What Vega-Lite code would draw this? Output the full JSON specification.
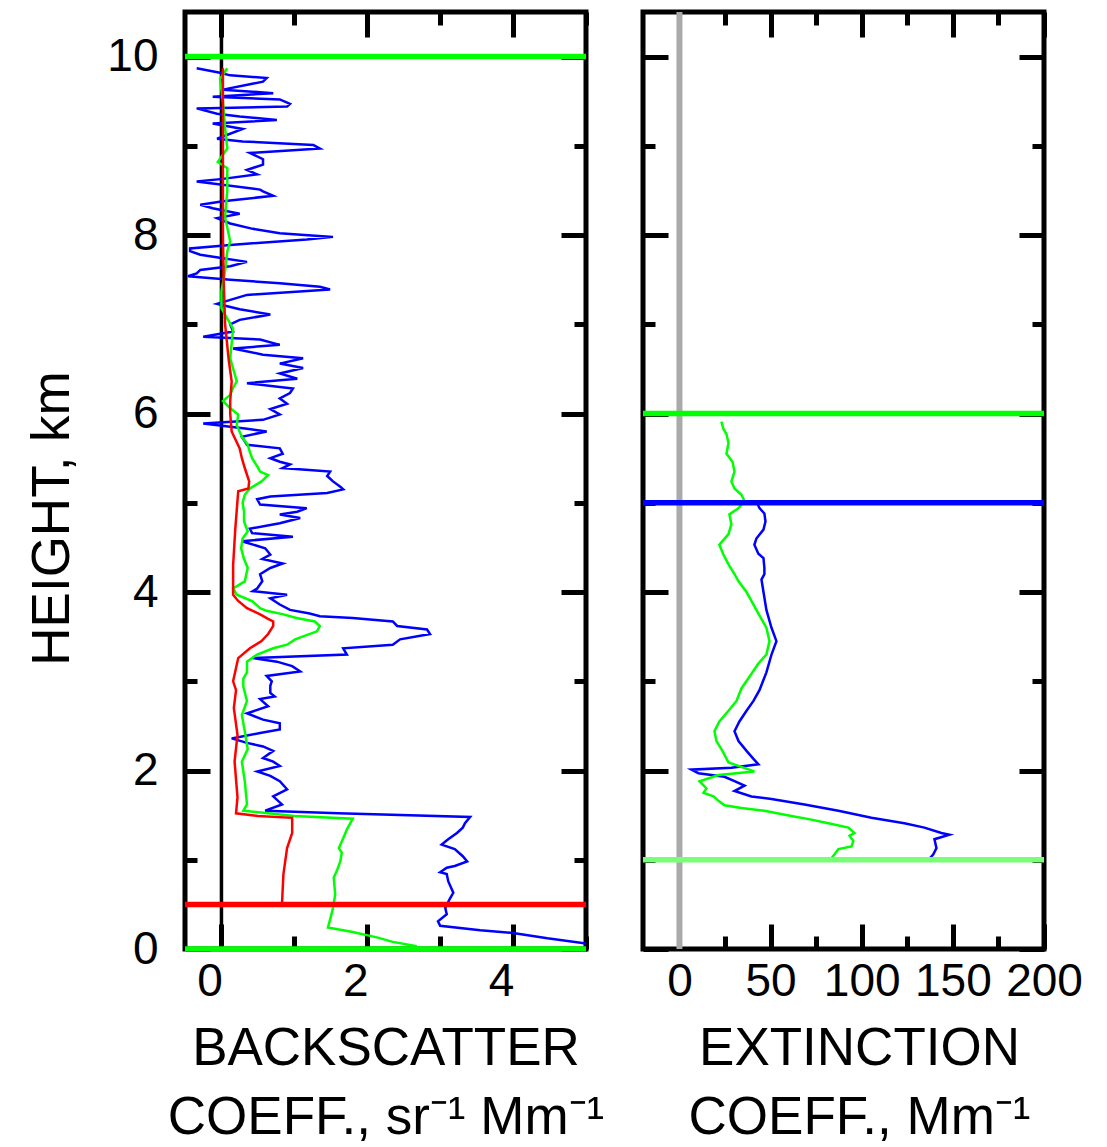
{
  "$schema": "https://vega.github.io/schema/vega-lite/v6.json",
  "padding": {"left": 23, "top": 6, "right": 5, "bottom": 5},
  "background": "white",
  "spacing": 30,
  "config": {
    "view": {"stroke": "black", "strokeWidth": 5},
    "axis": {
      "labelFont": "Liberation Sans",
      "titleFont": "Liberation Sans",
      "labelColor": "black",
      "titleColor": "black",
      "titleFontWeight": "normal",
      "domain": false,
      "grid": false,
      "tickColor": "black",
      "tickWidth": 5,
      "labelFlush": false,
      "labelOverlap": false,
      "labelFontSize": 46,
      "titleFontSize": 53
    }
  },
  "datasets": {
    "bsc": [
      {"h": 0.06, "v": 5.02, "c": "355"}, {"h": 0.12, "v": 4.47, "c": "355"}, {"h": 0.18, "v": 4.0, "c": "355"}, {"h": 0.21, "v": 3.55, "c": "355"},
      {"h": 0.26, "v": 3.0, "c": "355"}, {"h": 0.31, "v": 2.97, "c": "355"}, {"h": 0.39, "v": 3.09, "c": "355"}, {"h": 0.46, "v": 3.07, "c": "355"},
      {"h": 0.56, "v": 3.13, "c": "355"}, {"h": 0.63, "v": 3.18, "c": "355"}, {"h": 0.76, "v": 3.11, "c": "355"}, {"h": 0.84, "v": 3.09, "c": "355"},
      {"h": 0.86, "v": 3.0, "c": "355"}, {"h": 0.91, "v": 3.09, "c": "355"}, {"h": 0.93, "v": 3.2, "c": "355"}, {"h": 0.98, "v": 3.37, "c": "355"},
      {"h": 1.04, "v": 3.31, "c": "355"}, {"h": 1.12, "v": 3.2, "c": "355"}, {"h": 1.15, "v": 3.09, "c": "355"}, {"h": 1.17, "v": 3.02, "c": "355"},
      {"h": 1.23, "v": 3.11, "c": "355"}, {"h": 1.30, "v": 3.23, "c": "355"}, {"h": 1.36, "v": 3.31, "c": "355"}, {"h": 1.41, "v": 3.34, "c": "355"},
      {"h": 1.48, "v": 3.41, "c": "355"}, {"h": 1.52, "v": 1.6, "c": "355"}, {"h": 1.55, "v": 0.6, "c": "355"}, {"h": 1.62, "v": 0.83, "c": "355"},
      {"h": 1.71, "v": 0.71, "c": "355"}, {"h": 1.79, "v": 0.9, "c": "355"}, {"h": 1.88, "v": 0.8, "c": "355"}, {"h": 1.94, "v": 0.67, "c": "355"},
      {"h": 1.99, "v": 0.49, "c": "355"}, {"h": 2.05, "v": 0.8, "c": "355"}, {"h": 2.10, "v": 0.71, "c": "355"}, {"h": 2.14, "v": 0.57, "c": "355"},
      {"h": 2.22, "v": 0.71, "c": "355"}, {"h": 2.27, "v": 0.57, "c": "355"}, {"h": 2.31, "v": 0.35, "c": "355"}, {"h": 2.36, "v": 0.14, "c": "355"},
      {"h": 2.42, "v": 0.53, "c": "355"}, {"h": 2.46, "v": 0.8, "c": "355"}, {"h": 2.53, "v": 0.8, "c": "355"}, {"h": 2.57, "v": 0.57, "c": "355"},
      {"h": 2.64, "v": 0.35, "c": "355"}, {"h": 2.72, "v": 0.64, "c": "355"}, {"h": 2.80, "v": 0.53, "c": "355"}, {"h": 2.83, "v": 0.73, "c": "355"},
      {"h": 2.87, "v": 0.67, "c": "355"}, {"h": 2.95, "v": 0.67, "c": "355"}, {"h": 3.00, "v": 0.69, "c": "355"}, {"h": 3.06, "v": 0.62, "c": "355"},
      {"h": 3.11, "v": 1.08, "c": "355"}, {"h": 3.17, "v": 0.97, "c": "355"}, {"h": 3.22, "v": 0.76, "c": "355"}, {"h": 3.26, "v": 0.43, "c": "355"},
      {"h": 3.30, "v": 1.72, "c": "355"}, {"h": 3.37, "v": 1.67, "c": "355"}, {"h": 3.41, "v": 2.35, "c": "355"}, {"h": 3.47, "v": 2.45, "c": "355"},
      {"h": 3.53, "v": 2.86, "c": "355"}, {"h": 3.58, "v": 2.82, "c": "355"}, {"h": 3.62, "v": 2.41, "c": "355"}, {"h": 3.67, "v": 2.35, "c": "355"},
      {"h": 3.71, "v": 1.8, "c": "355"}, {"h": 3.73, "v": 1.35, "c": "355"}, {"h": 3.76, "v": 1.21, "c": "355"}, {"h": 3.80, "v": 0.94, "c": "355"},
      {"h": 3.86, "v": 0.8, "c": "355"}, {"h": 3.93, "v": 0.67, "c": "355"}, {"h": 3.97, "v": 0.9, "c": "355"}, {"h": 4.01, "v": 0.43, "c": "355"},
      {"h": 4.04, "v": 0.49, "c": "355"}, {"h": 4.12, "v": 0.56, "c": "355"}, {"h": 4.20, "v": 0.53, "c": "355"}, {"h": 4.27, "v": 0.67, "c": "355"},
      {"h": 4.32, "v": 0.84, "c": "355"}, {"h": 4.37, "v": 0.56, "c": "355"}, {"h": 4.42, "v": 0.67, "c": "355"}, {"h": 4.49, "v": 0.6, "c": "355"},
      {"h": 4.57, "v": 0.28, "c": "355"}, {"h": 4.62, "v": 0.98, "c": "355"}, {"h": 4.66, "v": 0.42, "c": "355"}, {"h": 4.71, "v": 0.39, "c": "355"},
      {"h": 4.77, "v": 0.8, "c": "355"}, {"h": 4.83, "v": 1.08, "c": "355"}, {"h": 4.87, "v": 0.8, "c": "355"}, {"h": 4.90, "v": 1.04, "c": "355"},
      {"h": 4.94, "v": 1.17, "c": "355"}, {"h": 4.98, "v": 0.53, "c": "355"}, {"h": 5.04, "v": 0.49, "c": "355"}, {"h": 5.07, "v": 0.67, "c": "355"},
      {"h": 5.11, "v": 1.45, "c": "355"}, {"h": 5.15, "v": 1.67, "c": "355"}, {"h": 5.18, "v": 1.63, "c": "355"}, {"h": 5.24, "v": 1.53, "c": "355"},
      {"h": 5.30, "v": 1.45, "c": "355"}, {"h": 5.35, "v": 1.49, "c": "355"}, {"h": 5.39, "v": 0.84, "c": "355"}, {"h": 5.43, "v": 0.94, "c": "355"},
      {"h": 5.46, "v": 0.8, "c": "355"}, {"h": 5.50, "v": 0.67, "c": "355"}, {"h": 5.55, "v": 0.84, "c": "355"}, {"h": 5.61, "v": 0.8, "c": "355"},
      {"h": 5.65, "v": 0.35, "c": "355"}, {"h": 5.69, "v": 0.32, "c": "355"}, {"h": 5.74, "v": 0.28, "c": "355"}, {"h": 5.80, "v": 0.62, "c": "355"},
      {"h": 5.83, "v": 0.35, "c": "355"}, {"h": 5.89, "v": -0.25, "c": "355"}, {"h": 5.93, "v": 0.57, "c": "355"}, {"h": 5.99, "v": 0.8, "c": "355"},
      {"h": 6.05, "v": 0.67, "c": "355"}, {"h": 6.11, "v": 0.9, "c": "355"}, {"h": 6.17, "v": 0.8, "c": "355"}, {"h": 6.23, "v": 0.94, "c": "355"},
      {"h": 6.28, "v": 0.98, "c": "355"}, {"h": 6.34, "v": 0.35, "c": "355"}, {"h": 6.39, "v": 1.04, "c": "355"}, {"h": 6.45, "v": 0.8, "c": "355"},
      {"h": 6.51, "v": 1.12, "c": "355"}, {"h": 6.56, "v": 0.8, "c": "355"}, {"h": 6.62, "v": 1.12, "c": "355"}, {"h": 6.66, "v": 0.57, "c": "355"},
      {"h": 6.73, "v": 0.16, "c": "355"}, {"h": 6.77, "v": 0.8, "c": "355"}, {"h": 6.83, "v": 0.53, "c": "355"}, {"h": 6.86, "v": -0.25, "c": "355"},
      {"h": 6.92, "v": 0.16, "c": "355"}, {"h": 7.00, "v": 0.12, "c": "355"}, {"h": 7.05, "v": 0.25, "c": "355"}, {"h": 7.11, "v": 0.67, "c": "355"},
      {"h": 7.17, "v": 0.25, "c": "355"}, {"h": 7.23, "v": -0.06, "c": "355"}, {"h": 7.33, "v": 0.35, "c": "355"}, {"h": 7.39, "v": 1.49, "c": "355"},
      {"h": 7.42, "v": 1.35, "c": "355"}, {"h": 7.46, "v": 0.8, "c": "355"}, {"h": 7.50, "v": 0.12, "c": "355"}, {"h": 7.54, "v": -0.46, "c": "355"},
      {"h": 7.57, "v": -0.34, "c": "355"}, {"h": 7.61, "v": -0.29, "c": "355"}, {"h": 7.65, "v": 0.12, "c": "355"}, {"h": 7.70, "v": 0.35, "c": "355"},
      {"h": 7.74, "v": 0.02, "c": "355"}, {"h": 7.78, "v": -0.29, "c": "355"}, {"h": 7.82, "v": -0.43, "c": "355"}, {"h": 7.85, "v": -0.43, "c": "355"},
      {"h": 7.89, "v": 0.12, "c": "355"}, {"h": 7.95, "v": 1.17, "c": "355"}, {"h": 7.98, "v": 1.53, "c": "355"}, {"h": 8.02, "v": 0.8, "c": "355"},
      {"h": 8.07, "v": 0.43, "c": "355"}, {"h": 8.13, "v": 0.12, "c": "355"}, {"h": 8.19, "v": -0.06, "c": "355"}, {"h": 8.24, "v": 0.25, "c": "355"},
      {"h": 8.30, "v": -0.12, "c": "355"}, {"h": 8.34, "v": -0.29, "c": "355"}, {"h": 8.38, "v": 0.02, "c": "355"}, {"h": 8.44, "v": 0.71, "c": "355"},
      {"h": 8.49, "v": 0.57, "c": "355"}, {"h": 8.51, "v": 0.53, "c": "355"}, {"h": 8.60, "v": -0.34, "c": "355"}, {"h": 8.63, "v": 0.02, "c": "355"},
      {"h": 8.68, "v": 0.49, "c": "355"}, {"h": 8.73, "v": 0.35, "c": "355"}, {"h": 8.79, "v": 0.57, "c": "355"}, {"h": 8.85, "v": 0.57, "c": "355"},
      {"h": 8.92, "v": 0.39, "c": "355"}, {"h": 8.97, "v": 1.35, "c": "355"}, {"h": 9.01, "v": 1.26, "c": "355"}, {"h": 9.05, "v": 0.29, "c": "355"},
      {"h": 9.08, "v": -0.06, "c": "355"}, {"h": 9.19, "v": 0.29, "c": "355"}, {"h": 9.25, "v": -0.12, "c": "355"}, {"h": 9.29, "v": 0.76, "c": "355"},
      {"h": 9.33, "v": 0.25, "c": "355"}, {"h": 9.36, "v": -0.06, "c": "355"}, {"h": 9.42, "v": -0.34, "c": "355"}, {"h": 9.44, "v": 0.9, "c": "355"},
      {"h": 9.47, "v": 0.94, "c": "355"}, {"h": 9.52, "v": 0.8, "c": "355"}, {"h": 9.55, "v": -0.12, "c": "355"}, {"h": 9.59, "v": 0.71, "c": "355"},
      {"h": 9.63, "v": 0.02, "c": "355"}, {"h": 9.69, "v": 0.39, "c": "355"}, {"h": 9.72, "v": 0.57, "c": "355"}, {"h": 9.76, "v": 0.62, "c": "355"},
      {"h": 9.79, "v": 0.12, "c": "355"}, {"h": 9.82, "v": -0.02, "c": "355"}, {"h": 9.87, "v": -0.34, "c": "355"},

      {"h": 0.03, "v": 2.68, "c": "532"}, {"h": 0.08, "v": 2.35, "c": "532"}, {"h": 0.13, "v": 2.13, "c": "532"}, {"h": 0.19, "v": 1.8, "c": "532"},
      {"h": 0.24, "v": 1.46, "c": "532"}, {"h": 0.33, "v": 1.49, "c": "532"}, {"h": 0.46, "v": 1.53, "c": "532"}, {"h": 0.61, "v": 1.56, "c": "532"},
      {"h": 0.80, "v": 1.54, "c": "532"}, {"h": 0.87, "v": 1.58, "c": "532"}, {"h": 0.98, "v": 1.63, "c": "532"}, {"h": 1.08, "v": 1.65, "c": "532"},
      {"h": 1.13, "v": 1.61, "c": "532"}, {"h": 1.24, "v": 1.67, "c": "532"}, {"h": 1.34, "v": 1.72, "c": "532"}, {"h": 1.40, "v": 1.76, "c": "532"},
      {"h": 1.46, "v": 1.8, "c": "532"}, {"h": 1.49, "v": 1.0, "c": "532"}, {"h": 1.55, "v": 0.3, "c": "532"}, {"h": 1.62, "v": 0.35, "c": "532"},
      {"h": 1.88, "v": 0.32, "c": "532"}, {"h": 2.10, "v": 0.28, "c": "532"}, {"h": 2.24, "v": 0.36, "c": "532"}, {"h": 2.44, "v": 0.32, "c": "532"},
      {"h": 2.62, "v": 0.28, "c": "532"}, {"h": 2.78, "v": 0.35, "c": "532"}, {"h": 2.94, "v": 0.3, "c": "532"}, {"h": 3.03, "v": 0.3, "c": "532"},
      {"h": 3.10, "v": 0.35, "c": "532"}, {"h": 3.22, "v": 0.35, "c": "532"}, {"h": 3.30, "v": 0.49, "c": "532"}, {"h": 3.37, "v": 0.71, "c": "532"},
      {"h": 3.41, "v": 0.9, "c": "532"}, {"h": 3.47, "v": 1.01, "c": "532"}, {"h": 3.56, "v": 1.31, "c": "532"}, {"h": 3.62, "v": 1.35, "c": "532"},
      {"h": 3.67, "v": 1.28, "c": "532"}, {"h": 3.71, "v": 1.03, "c": "532"}, {"h": 3.75, "v": 0.85, "c": "532"}, {"h": 3.79, "v": 0.62, "c": "532"},
      {"h": 3.82, "v": 0.53, "c": "532"}, {"h": 3.90, "v": 0.42, "c": "532"}, {"h": 3.97, "v": 0.21, "c": "532"}, {"h": 4.04, "v": 0.16, "c": "532"},
      {"h": 4.12, "v": 0.32, "c": "532"}, {"h": 4.27, "v": 0.36, "c": "532"}, {"h": 4.37, "v": 0.31, "c": "532"}, {"h": 4.49, "v": 0.27, "c": "532"},
      {"h": 4.60, "v": 0.29, "c": "532"}, {"h": 4.68, "v": 0.36, "c": "532"}, {"h": 4.79, "v": 0.31, "c": "532"}, {"h": 4.90, "v": 0.31, "c": "532"},
      {"h": 5.00, "v": 0.29, "c": "532"}, {"h": 5.09, "v": 0.32, "c": "532"}, {"h": 5.16, "v": 0.39, "c": "532"}, {"h": 5.24, "v": 0.55, "c": "532"},
      {"h": 5.31, "v": 0.64, "c": "532"}, {"h": 5.35, "v": 0.53, "c": "532"}, {"h": 5.41, "v": 0.49, "c": "532"}, {"h": 5.50, "v": 0.42, "c": "532"},
      {"h": 5.57, "v": 0.39, "c": "532"}, {"h": 5.65, "v": 0.36, "c": "532"}, {"h": 5.74, "v": 0.28, "c": "532"}, {"h": 5.87, "v": 0.21, "c": "532"},
      {"h": 5.99, "v": 0.23, "c": "532"}, {"h": 6.06, "v": 0.12, "c": "532"}, {"h": 6.14, "v": 0.02, "c": "532"}, {"h": 6.21, "v": 0.12, "c": "532"},
      {"h": 6.29, "v": 0.16, "c": "532"}, {"h": 6.36, "v": 0.21, "c": "532"}, {"h": 6.62, "v": 0.12, "c": "532"}, {"h": 6.95, "v": 0.16, "c": "532"},
      {"h": 7.18, "v": 0.0, "c": "532"}, {"h": 7.37, "v": 0.0, "c": "532"}, {"h": 7.60, "v": 0.05, "c": "532"}, {"h": 7.82, "v": 0.08, "c": "532"},
      {"h": 7.93, "v": 0.12, "c": "532"}, {"h": 8.20, "v": 0.05, "c": "532"}, {"h": 8.50, "v": 0.08, "c": "532"}, {"h": 8.75, "v": 0.08, "c": "532"},
      {"h": 8.82, "v": -0.05, "c": "532"}, {"h": 8.97, "v": 0.08, "c": "532"}, {"h": 9.20, "v": 0.05, "c": "532"}, {"h": 9.50, "v": 0.02, "c": "532"},
      {"h": 9.75, "v": -0.02, "c": "532"}, {"h": 9.87, "v": 0.08, "c": "532"},

      {"h": 0.50, "v": 0.83, "c": "1064"}, {"h": 0.84, "v": 0.85, "c": "1064"}, {"h": 1.13, "v": 0.9, "c": "1064"}, {"h": 1.30, "v": 0.97, "c": "1064"},
      {"h": 1.47, "v": 0.97, "c": "1064"}, {"h": 1.49, "v": 0.5, "c": "1064"}, {"h": 1.52, "v": 0.2, "c": "1064"}, {"h": 1.70, "v": 0.22, "c": "1064"},
      {"h": 2.10, "v": 0.18, "c": "1064"}, {"h": 2.40, "v": 0.22, "c": "1064"}, {"h": 2.70, "v": 0.17, "c": "1064"}, {"h": 2.90, "v": 0.2, "c": "1064"},
      {"h": 3.00, "v": 0.16, "c": "1064"}, {"h": 3.26, "v": 0.23, "c": "1064"}, {"h": 3.37, "v": 0.39, "c": "1064"}, {"h": 3.45, "v": 0.55, "c": "1064"},
      {"h": 3.53, "v": 0.64, "c": "1064"}, {"h": 3.62, "v": 0.71, "c": "1064"}, {"h": 3.67, "v": 0.71, "c": "1064"}, {"h": 3.70, "v": 0.64, "c": "1064"},
      {"h": 3.75, "v": 0.53, "c": "1064"}, {"h": 3.82, "v": 0.35, "c": "1064"}, {"h": 3.90, "v": 0.23, "c": "1064"}, {"h": 3.97, "v": 0.16, "c": "1064"},
      {"h": 4.30, "v": 0.16, "c": "1064"}, {"h": 4.71, "v": 0.19, "c": "1064"}, {"h": 5.13, "v": 0.23, "c": "1064"}, {"h": 5.16, "v": 0.37, "c": "1064"},
      {"h": 5.24, "v": 0.38, "c": "1064"}, {"h": 5.39, "v": 0.32, "c": "1064"}, {"h": 5.50, "v": 0.28, "c": "1064"}, {"h": 5.61, "v": 0.25, "c": "1064"},
      {"h": 5.80, "v": 0.14, "c": "1064"}, {"h": 6.00, "v": 0.12, "c": "1064"}, {"h": 6.14, "v": 0.12, "c": "1064"}, {"h": 6.36, "v": 0.14, "c": "1064"},
      {"h": 6.60, "v": 0.1, "c": "1064"}, {"h": 7.00, "v": 0.05, "c": "1064"}, {"h": 7.50, "v": 0.03, "c": "1064"}, {"h": 8.00, "v": 0.02, "c": "1064"},
      {"h": 9.00, "v": 0.02, "c": "1064"}, {"h": 9.87, "v": 0.02, "c": "1064"}
    ],
    "ext": [
      {"h": 4.98, "v": 43.0, "c": "355"}, {"h": 4.94, "v": 43.9, "c": "355"}, {"h": 4.88, "v": 46.6, "c": "355"}, {"h": 4.79, "v": 47.2, "c": "355"},
      {"h": 4.70, "v": 46.1, "c": "355"}, {"h": 4.60, "v": 42.2, "c": "355"}, {"h": 4.53, "v": 41.1, "c": "355"}, {"h": 4.43, "v": 43.3, "c": "355"},
      {"h": 4.38, "v": 46.1, "c": "355"}, {"h": 4.27, "v": 46.6, "c": "355"}, {"h": 4.20, "v": 46.6, "c": "355"}, {"h": 4.14, "v": 45.0, "c": "355"},
      {"h": 4.00, "v": 46.1, "c": "355"}, {"h": 3.80, "v": 47.7, "c": "355"}, {"h": 3.60, "v": 50.5, "c": "355"}, {"h": 3.45, "v": 53.2, "c": "355"},
      {"h": 3.30, "v": 50.5, "c": "355"}, {"h": 3.10, "v": 47.7, "c": "355"}, {"h": 2.90, "v": 43.9, "c": "355"}, {"h": 2.78, "v": 40.6, "c": "355"},
      {"h": 2.67, "v": 36.8, "c": "355"}, {"h": 2.55, "v": 32.9, "c": "355"}, {"h": 2.44, "v": 30.2, "c": "355"}, {"h": 2.33, "v": 32.4, "c": "355"},
      {"h": 2.22, "v": 36.8, "c": "355"}, {"h": 2.13, "v": 40.6, "c": "355"}, {"h": 2.07, "v": 43.3, "c": "355"}, {"h": 2.03, "v": 28.5, "c": "355"},
      {"h": 2.01, "v": 6.6, "c": "355"}, {"h": 1.97, "v": 10.4, "c": "355"}, {"h": 1.93, "v": 24.7, "c": "355"}, {"h": 1.88, "v": 30.2, "c": "355"},
      {"h": 1.83, "v": 35.7, "c": "355"}, {"h": 1.77, "v": 30.2, "c": "355"}, {"h": 1.71, "v": 39.5, "c": "355"}, {"h": 1.68, "v": 50.5, "c": "355"},
      {"h": 1.62, "v": 68.6, "c": "355"}, {"h": 1.55, "v": 87.2, "c": "355"}, {"h": 1.47, "v": 105.3, "c": "355"}, {"h": 1.41, "v": 123.4, "c": "355"},
      {"h": 1.36, "v": 134.4, "c": "355"}, {"h": 1.30, "v": 143.7, "c": "355"}, {"h": 1.28, "v": 148.1, "c": "355"}, {"h": 1.23, "v": 139.9, "c": "355"},
      {"h": 1.13, "v": 141.0, "c": "355"}, {"h": 1.06, "v": 139.3, "c": "355"}, {"h": 1.00, "v": 136.6, "c": "355"},

      {"h": 5.91, "v": 23.0, "c": "532"}, {"h": 5.83, "v": 24.1, "c": "532"}, {"h": 5.77, "v": 25.8, "c": "532"}, {"h": 5.67, "v": 26.9, "c": "532"},
      {"h": 5.55, "v": 25.8, "c": "532"}, {"h": 5.46, "v": 29.1, "c": "532"}, {"h": 5.35, "v": 30.2, "c": "532"}, {"h": 5.24, "v": 28.5, "c": "532"},
      {"h": 5.16, "v": 30.2, "c": "532"}, {"h": 5.09, "v": 34.0, "c": "532"}, {"h": 5.02, "v": 35.7, "c": "532"}, {"h": 4.94, "v": 32.4, "c": "532"},
      {"h": 4.87, "v": 27.4, "c": "532"}, {"h": 4.76, "v": 28.5, "c": "532"}, {"h": 4.65, "v": 26.9, "c": "532"}, {"h": 4.53, "v": 21.9, "c": "532"},
      {"h": 4.42, "v": 24.1, "c": "532"}, {"h": 4.31, "v": 26.9, "c": "532"}, {"h": 4.20, "v": 30.2, "c": "532"}, {"h": 4.12, "v": 32.4, "c": "532"},
      {"h": 4.00, "v": 36.8, "c": "532"}, {"h": 3.80, "v": 42.2, "c": "532"}, {"h": 3.60, "v": 47.7, "c": "532"}, {"h": 3.45, "v": 49.4, "c": "532"},
      {"h": 3.30, "v": 47.7, "c": "532"}, {"h": 3.20, "v": 43.3, "c": "532"}, {"h": 3.05, "v": 38.4, "c": "532"}, {"h": 2.92, "v": 34.0, "c": "532"},
      {"h": 2.78, "v": 31.3, "c": "532"}, {"h": 2.67, "v": 26.9, "c": "532"}, {"h": 2.55, "v": 21.9, "c": "532"}, {"h": 2.44, "v": 19.2, "c": "532"},
      {"h": 2.33, "v": 20.3, "c": "532"}, {"h": 2.22, "v": 23.6, "c": "532"}, {"h": 2.09, "v": 26.9, "c": "532"}, {"h": 1.99, "v": 41.1, "c": "532"},
      {"h": 1.95, "v": 21.4, "c": "532"}, {"h": 1.88, "v": 11.0, "c": "532"}, {"h": 1.80, "v": 14.8, "c": "532"}, {"h": 1.75, "v": 13.2, "c": "532"},
      {"h": 1.71, "v": 18.7, "c": "532"}, {"h": 1.66, "v": 21.4, "c": "532"}, {"h": 1.61, "v": 24.7, "c": "532"}, {"h": 1.58, "v": 34.0, "c": "532"},
      {"h": 1.55, "v": 46.6, "c": "532"}, {"h": 1.49, "v": 61.4, "c": "532"}, {"h": 1.45, "v": 72.4, "c": "532"}, {"h": 1.41, "v": 81.7, "c": "532"},
      {"h": 1.36, "v": 92.7, "c": "532"}, {"h": 1.30, "v": 96.0, "c": "532"}, {"h": 1.27, "v": 93.3, "c": "532"}, {"h": 1.21, "v": 95.4, "c": "532"},
      {"h": 1.15, "v": 94.4, "c": "532"}, {"h": 1.12, "v": 87.2, "c": "532"}, {"h": 1.06, "v": 85.0, "c": "532"}, {"h": 0.99, "v": 82.3, "c": "532"}
    ],
    "bscLevels": [
      {"h": 10, "c": "532"}, {"h": 0.5, "c": "1064"}, {"h": 0, "c": "532"}
    ],
    "extLevels": [
      {"h": 6, "c": "532"}, {"h": 5, "c": "355"}, {"h": 1, "c": "532 low"}
    ],
    "zero": [{"x0": 0}]
  },
  "hconcat": [
    {
      "width": 401,
      "height": 937,
      "layer": [
        {
          "data": {"name": "zero"},
          "mark": {"type": "rule", "color": "black", "strokeWidth": 3.5},
          "encoding": {
            "x": {
              "field": "x0", "type": "quantitative",
              "scale": {"domain": [-0.5, 5], "nice": false, "zero": false},
              "axis": {
                "orient": "top", "values": [0, 1, 2, 3, 4, 5], "labels": false, "title": null,
                "tickSize": {"condition": {"test": "datum.value % 2 === 0", "value": -25}, "value": -13}
              }
            }
          }
        },
        {
          "data": {"name": "bsc"},
          "mark": {"type": "line", "strokeWidth": 2.5, "clip": true},
          "encoding": {
            "x": {
              "field": "v", "type": "quantitative",
              "scale": {"domain": [-0.5, 5], "nice": false, "zero": false},
              "axis": {
                "orient": "bottom", "values": [0, 1, 2, 3, 4, 5],
                "labelExpr": "datum.value % 2 === 0 ? datum.label : ''",
                "tickSize": {"condition": {"test": "datum.value % 2 === 0", "value": -25}, "value": -13},
                "labelPadding": 35, "labelOffset": -12,
                "title": ["BACKSCATTER", "COEFF., sr⁻¹ Mm⁻¹"],
                "titlePadding": 6, "titleLineHeight": 69
              }
            },
            "y": {
              "field": "h", "type": "quantitative",
              "scale": {"domain": [0, 10.5], "nice": false, "zero": false},
              "axis": {
                "orient": "left", "values": [0, 1, 2, 3, 4, 5, 6, 7, 8, 9, 10],
                "labelExpr": "datum.value % 2 === 0 ? datum.label : ''",
                "tickSize": {"condition": {"test": "datum.value % 2 === 0", "value": -25}, "value": -12},
                "labelPadding": 52,
                "title": "HEIGHT, km",
                "titleX": -117, "titleY": 506, "titleBaseline": "alphabetic", "titleAngle": 270, "titleAlign": "center"
              }
            },
            "color": {
              "field": "c", "type": "nominal", "legend": null,
              "scale": {"domain": ["1064", "532", "355", "532 low"], "range": ["#ff0000", "#00ff00", "#0000ff", "#77ff77"]}
            },
            "order": {"field": "h", "type": "quantitative"}
          }
        },
        {
          "data": {"name": "bscLevels"},
          "mark": {"type": "rule", "strokeWidth": 5.5},
          "encoding": {
            "y": {
              "field": "h", "type": "quantitative",
              "scale": {"domain": [0, 10.5], "nice": false, "zero": false},
              "axis": {
                "orient": "right", "values": [0, 1, 2, 3, 4, 5, 6, 7, 8, 9, 10], "labels": false, "title": null,
                "tickSize": {"condition": {"test": "datum.value % 2 === 0", "value": -25}, "value": -12}
              }
            },
            "color": {
              "field": "c", "type": "nominal", "legend": null,
              "scale": {"domain": ["1064", "532", "355", "532 low"], "range": ["#ff0000", "#00ff00", "#0000ff", "#77ff77"]}
            }
          }
        }
      ],
      "resolve": {"axis": {"x": "independent", "y": "independent"}}
    },
    {
      "width": 401,
      "height": 937,
      "layer": [
        {
          "data": {"name": "zero"},
          "mark": {"type": "rule", "color": "#aaaaaa", "strokeWidth": 6},
          "encoding": {
            "x": {
              "field": "x0", "type": "quantitative",
              "scale": {"domain": [-20, 200], "nice": false, "zero": false},
              "axis": {
                "orient": "top", "values": [0, 25, 50, 75, 100, 125, 150, 175, 200], "labels": false, "title": null,
                "tickSize": {"condition": {"test": "datum.value % 50 === 0", "value": -25}, "value": -13}
              }
            }
          }
        },
        {
          "data": {"name": "ext"},
          "mark": {"type": "line", "strokeWidth": 2.5, "clip": true},
          "encoding": {
            "x": {
              "field": "v", "type": "quantitative",
              "scale": {"domain": [-20, 200], "nice": false, "zero": false},
              "axis": {
                "orient": "bottom", "values": [0, 25, 50, 75, 100, 125, 150, 175, 200],
                "labelExpr": "datum.value % 50 === 0 ? datum.label : ''",
                "tickSize": {"condition": {"test": "datum.value % 50 === 0", "value": -25}, "value": -13},
                "labelPadding": 35,
                "title": ["EXTINCTION", "COEFF., Mm⁻¹"],
                "titlePadding": 6, "titleLineHeight": 69, "titleX": 216
              }
            },
            "y": {
              "field": "h", "type": "quantitative",
              "scale": {"domain": [0, 10.5], "nice": false, "zero": false},
              "axis": {
                "orient": "left", "values": [0, 1, 2, 3, 4, 5, 6, 7, 8, 9, 10], "labels": false, "title": null,
                "tickSize": {"condition": {"test": "datum.value % 2 === 0", "value": -25}, "value": -12}
              }
            },
            "color": {
              "field": "c", "type": "nominal", "legend": null,
              "scale": {"domain": ["1064", "532", "355", "532 low"], "range": ["#ff0000", "#00ff00", "#0000ff", "#77ff77"]}
            },
            "order": {"field": "h", "type": "quantitative"}
          }
        },
        {
          "data": {"name": "extLevels"},
          "mark": {"type": "rule", "strokeWidth": 5.5},
          "encoding": {
            "y": {
              "field": "h", "type": "quantitative",
              "scale": {"domain": [0, 10.5], "nice": false, "zero": false},
              "axis": {
                "orient": "right", "values": [0, 1, 2, 3, 4, 5, 6, 7, 8, 9, 10], "labels": false, "title": null,
                "tickSize": {"condition": {"test": "datum.value % 2 === 0", "value": -25}, "value": -12}
              }
            },
            "color": {
              "field": "c", "type": "nominal", "legend": null,
              "scale": {"domain": ["1064", "532", "355", "532 low"], "range": ["#ff0000", "#00ff00", "#0000ff", "#77ff77"]}
            }
          }
        }
      ],
      "resolve": {"axis": {"x": "independent", "y": "independent"}}
    }
  ]
}
